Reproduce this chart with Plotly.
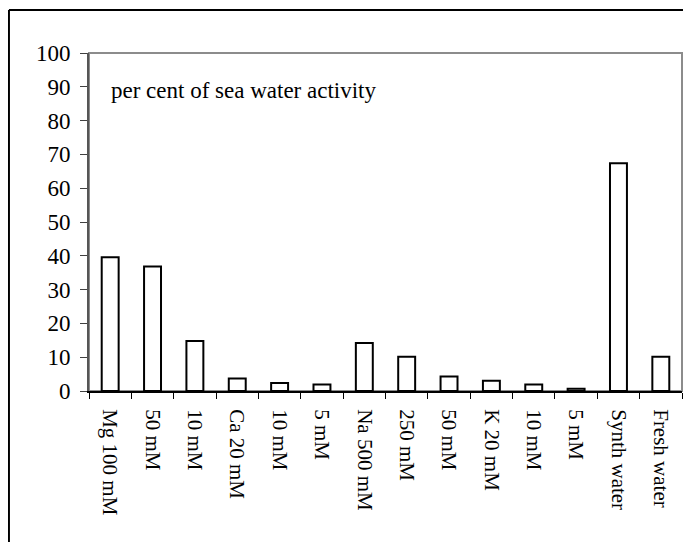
import plotly.graph_objects as go

# Relative activity of each test solution, % of sea water activity
labels = [
    "Mg 100 mM", "50 mM", "10 mM",
    "Ca 20 mM", "10 mM ", "5 mM",
    "Na 500 mM", "250 mM", "50 mM ",
    "K 20 mM", "10 mM  ", "5 mM ",
    "Synth water", "Fresh water",
]
activity = [39.6, 36.8, 14.8, 3.7, 2.4, 1.9, 14.2, 10.1, 4.3, 3.0, 1.9, 0.7, 67.4, 10.1]
y_ticks = list(range(0, 101, 10))

FONT = "Liberation Serif, Times New Roman, serif"

fig = go.Figure(
    go.Bar(
        x=labels,
        y=activity,
        marker=dict(color="white", line=dict(color="black", width=2)),
        width=0.4,
    )
)

# plot-area frame (grey, Excel style) and outer chart border
fig.add_shape(type="rect", xref="paper", yref="paper", x0=0, x1=1, y0=0, y1=1,
              line=dict(color="#8c8c8c", width=2), layer="below")
fig.add_shape(type="line", xref="paper", yref="paper", x0=-0.135, x1=1.2, y0=1.127, y1=1.127,
              line=dict(color="black", width=2))
fig.add_shape(type="line", xref="paper", yref="paper", x0=-0.135, x1=-0.135, y0=1.127, y1=-0.6,
              line=dict(color="black", width=2))

fig.add_annotation(
    text="per cent of sea water activity",
    xref="paper", yref="y", x=0.034, y=89,
    xanchor="left", yanchor="middle", showarrow=False,
    font=dict(family=FONT, size=23, color="black"),
)

# the page body adds an 8px margin, so the figure is trimmed by that much
fig.update_layout(
    width=683,
    height=534,
    margin=dict(l=81, r=9, t=45, b=151),
    paper_bgcolor="white",
    plot_bgcolor="white",
    showlegend=False,
    font=dict(family=FONT, size=21, color="black"),
    xaxis=dict(
        type="category",
        tickangle=90,
        ticks="outside",
        ticklen=6,
        tickwidth=1,
        tickcolor="black",
        tickson="boundaries",
        showline=True,
        linecolor="black",
        linewidth=2,
        showgrid=False,
        ticklabelstandoff=12,
    ),
    yaxis=dict(
        range=[0, 100],
        tickvals=y_ticks,
        ticks="outside",
        ticklen=7,
        tickwidth=1,
        tickcolor="#404040",
        showline=True,
        linecolor="#555555",
        linewidth=2,
        showgrid=False,
        zeroline=False,
        ticklabelstandoff=5,
        tickfont=dict(size=23),
    ),
)

fig.write_html("out.html")
